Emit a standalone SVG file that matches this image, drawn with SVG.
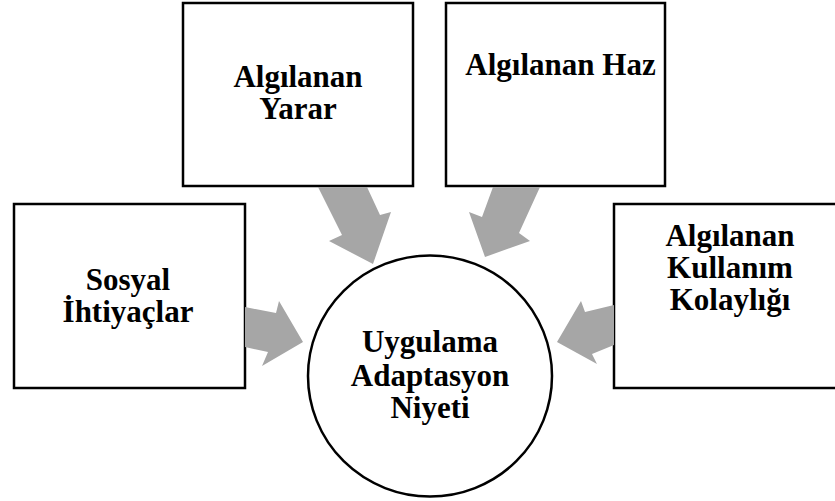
<svg xmlns="http://www.w3.org/2000/svg" width="835" height="501" viewBox="0 0 835 501">
<style>
.box{fill:#fff;stroke:#000;stroke-width:2.5}
.arr{fill:#a6a6a6;stroke:none}
text{font-family:"Liberation Serif","Times New Roman",serif;font-weight:bold;font-size:31px;fill:#000;text-anchor:middle}
</style>
<rect width="835" height="501" fill="#fff"/>
<g id="n-yarar">
<rect class="box" x="183" y="3" width="230" height="183"/>
<text x="298" y="87">Algılanan</text>
<text x="298" y="119">Yarar</text>
</g>
<g id="n-haz">
<rect class="box" x="446" y="3" width="219" height="183"/>
<text x="560.5" y="75">Algılanan Haz</text>
</g>
<g id="n-sosyal">
<rect class="box" x="14" y="204" width="231" height="184"/>
<text x="128" y="290">Sosyal</text>
<text x="128" y="322">İhtiyaçlar</text>
</g>
<g id="n-kolaylik">
<rect class="box" x="614" y="204" width="230" height="184"/>
<text x="730" y="246">Algılanan</text>
<text x="730" y="278">Kullanım</text>
<text x="730" y="310">Kolaylığı</text>
</g>
<g id="connectors">
<polygon class="arr" points="318,187 367,187 380,215 391,212 373,264 329,241 342,235"/>
<polygon class="arr" points="493,187 540,187 519,233 530,241 485,257 469,212 482,217"/>
<polygon class="arr" points="245,307 276,313 279,301 303,342 262,366 268,352 245,347"/>
<polygon class="arr" points="614,305 585,312 581,301 557,342 597,364 592,354 614,345"/>
</g>
<g id="n-niyet">
<ellipse cx="430" cy="376" rx="122" ry="120.5" fill="#fff" stroke="#000" stroke-width="2.5"/>
<text x="430" y="352">Uygulama</text>
<text x="430" y="386">Adaptasyon</text>
<text x="430" y="418">Niyeti</text>
</g>
</svg>
